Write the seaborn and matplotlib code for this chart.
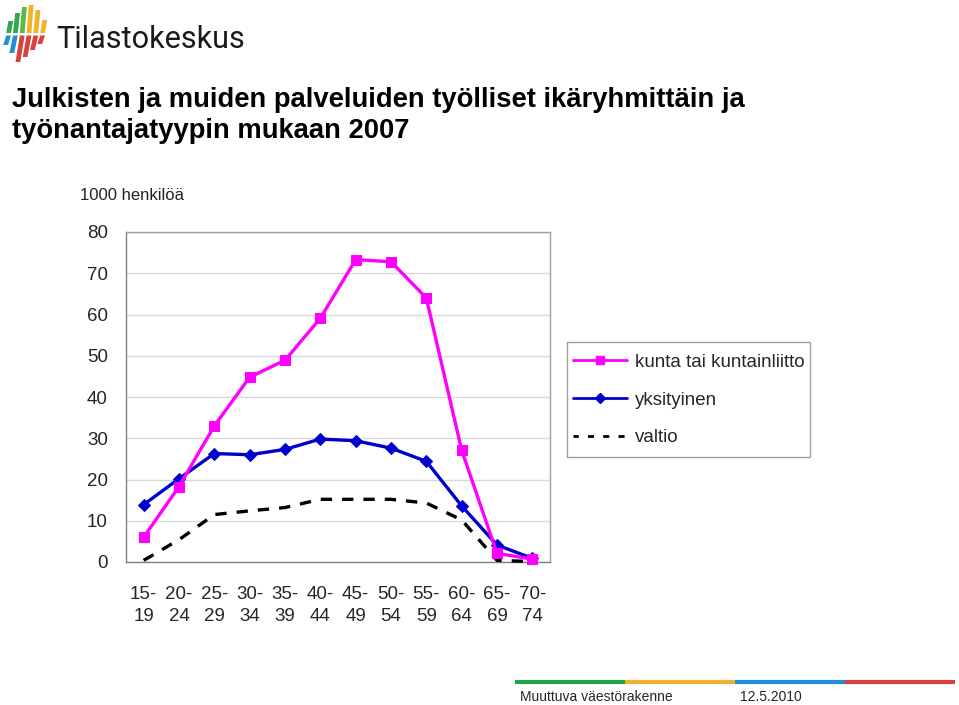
import numpy as np
import pandas as pd
import matplotlib
matplotlib.use("Agg")
import matplotlib.pyplot as plt
import seaborn as sns
from matplotlib.lines import Line2D
from matplotlib.patches import Polygon, Rectangle
from matplotlib import font_manager
from matplotlib.ticker import FixedLocator

# ---------------- data ----------------
age_groups = ["15-\n19", "20-\n24", "25-\n29", "30-\n34", "35-\n39", "40-\n44",
              "45-\n49", "50-\n54", "55-\n59", "60-\n64", "65-\n69", "70-\n74"]
kunta = [6.0, 18.3, 33.0, 44.8, 48.9, 59.1, 73.3, 72.8, 64.0, 27.1, 2.1, 0.7]
yksityinen = [13.9, 20.2, 26.3, 26.0, 27.3, 29.8, 29.4, 27.6, 24.4, 13.6, 4.1, 0.9]
valtio = [0.4, 5.4, 11.5, 12.4, 13.2, 15.2, 15.2, 15.2, 14.3, 10.2, 0.4, 0.1]
series_names = ["kunta tai kuntainliitto", "yksityinen", "valtio"]
y_ticks = [0, 10, 20, 30, 40, 50, 60, 70, 80]

title = "Julkisten ja muiden palveluiden työlliset ikäryhmittäin ja\ntyönantajatyypin mukaan 2007"
unit_label = "1000 henkilöä"
footer_left = "Muuttuva väestörakenne"
footer_right = "12.5.2010"
logo_text = "Tilastokeskus"

# ---------------- figure ----------------
sns.set_style("white")
plt.rcParams["font.family"] = ["Liberation Sans", "DejaVu Sans"]

W, H = 959, 705
fig = plt.figure(figsize=(W / 100, H / 100), dpi=100)

def fx(px):
    return px / W

def fy(py):
    return 1 - py / H

ax_left, ax_right, ax_top, ax_bottom = 126, 550, 232, 562
ax = fig.add_axes([fx(ax_left), fy(ax_bottom), fx(ax_right - ax_left), (ax_bottom - ax_top) / H])

x = np.arange(len(age_groups))
df = pd.DataFrame({"x": x, "kunta": kunta, "yksityinen": yksityinen, "valtio": valtio})

sns.lineplot(data=df, x="x", y="valtio", ax=ax, color="black", linewidth=2.4,
             linestyle=(0, (3.4, 3.0)), clip_on=False, label=series_names[2], zorder=3)
sns.lineplot(data=df, x="x", y="yksityinen", ax=ax, color="#0000CC", linewidth=2.4,
             marker="D", markersize=6.5, markeredgecolor="#0000CC", markerfacecolor="#0000CC",
             clip_on=False, label=series_names[1], zorder=4)
sns.lineplot(data=df, x="x", y="kunta", ax=ax, color="#FF00FF", linewidth=2.4,
             marker="s", markersize=6.5, markeredgecolor="#FF00FF", markerfacecolor="#FF00FF",
             clip_on=False, label=series_names[0], zorder=5)

ax.set_xlim(-0.5, len(age_groups) - 0.5)
ax.set_ylim(0, 80)
ax.set_yticks(y_ticks)
ax.set_yticklabels([str(v) for v in y_ticks], fontsize=13.5)
ax.set_xticks(x)
ax.set_xticklabels(age_groups, fontsize=13.5, linespacing=1.4)
ax.xaxis.set_minor_locator(FixedLocator(np.arange(0.5, len(age_groups) - 0.5, 1)))
ax.tick_params(axis="x", which="major", length=0, pad=17)
ax.tick_params(axis="x", which="minor", length=5, direction="in", color="#808080", width=1)
ax.tick_params(axis="y", length=4, direction="out", color="#808080", width=1, pad=9)
ax.set_xlabel("")
ax.set_ylabel("")
ax.yaxis.grid(True, color="#d9d9d9", linewidth=1)
ax.xaxis.grid(False)
ax.set_axisbelow(True)
for name, sp in ax.spines.items():
    sp.set_visible(True)
    sp.set_color("#a0a0a0")
    sp.set_linewidth(1)
ax.spines["bottom"].set_color("#808080")
ax.spines["left"].set_color("#808080")

# legend (frame drawn separately so its box matches the reference)
fig.add_artist(Rectangle((fx(567), fy(457)), fx(810 - 567), (457 - 342) / H,
                         transform=fig.transFigure, facecolor="white",
                         edgecolor="#a0a0a0", lw=1, zorder=-1))
handles = [
    Line2D([], [], color="#FF00FF", lw=2, marker="s", markersize=6, markerfacecolor="#FF00FF"),
    Line2D([], [], color="#0000CC", lw=2, marker="D", markersize=5.5, markerfacecolor="#0000CC"),
    Line2D([], [], color="black", lw=2, linestyle=(0.3, (2.2, 3.3))),
]
leg = ax.legend(handles, series_names, loc="upper left",
                bbox_to_anchor=(fx(567), fy(348)), bbox_transform=fig.transFigure,
                fontsize=13.5, frameon=False,
                handlelength=2.9, handletextpad=0.43, labelspacing=1.1,
                borderpad=0.3, borderaxespad=0, numpoints=1)

# titles
fig.text(fx(12), fy(87), title, fontsize=19.7, fontweight="bold", ha="left", va="top",
         linespacing=1.27, color="black")
fig.text(fx(80), fy(195), unit_label, fontsize=12, ha="left", va="center", color="#222222")

# footer
footer_cols = ["#1ea64a", "#f0b030", "#1e90d8", "#d9413c"]
seg = [515, 625, 735, 845, 955]
for i, c in enumerate(footer_cols):
    fig.add_artist(Line2D([fx(seg[i]), fx(seg[i + 1])], [fy(682), fy(682)], color=c, lw=3,
                          solid_capstyle="butt"))
fig.text(fx(520), fy(697), footer_left, fontsize=10, ha="left", va="center")
fig.text(fx(740), fy(697), footer_right, fontsize=10, ha="left", va="center")

# logo strips (decoration)
top_cols = ["#2ea84a", "#2ea84a", "#5cb848", "#f0b429", "#f0b429", "#f0b429"]
bot_cols = ["#1e90d8", "#1e90d8", "#d9413c", "#d9413c", "#d9413c", "#d9413c"]
tops = [21, 13, 7, 5, 10, 20]
bots = [45, 53, 62, 57, 50, 44]
for i in range(6):
    x0 = 4 + i * 6.8
    wdt = 4.8
    sl = 2.2
    pu = [(x0 + 2 * sl, tops[i]), (x0 + 2 * sl + wdt, tops[i]), (x0 + wdt + sl, 33), (x0 + sl, 33)]
    pl = [(x0 + sl, 35.5), (x0 + wdt + sl, 35.5), (x0 + wdt + sl * (35.5 - bots[i]) / 28, bots[i]),
          (x0 + sl * (35.5 - bots[i]) / 28, bots[i])]
    for pts, col in ((pu, top_cols[i]), (pl, bot_cols[i])):
        fig.add_artist(Polygon([(fx(a), fy(b)) for a, b in pts], closed=True,
                               transform=fig.transFigure, color=col, lw=0))

# logo text: narrowest available font, sized to fit the logo width
names = {f.name for f in font_manager.fontManager.ttflist}
logo_fam = "Liberation Sans Narrow" if "Liberation Sans Narrow" in names else "Roboto"
lt = fig.text(fx(56), fy(48), logo_text, fontsize=24, family=logo_fam, ha="left",
              va="baseline", color="#1a1a1a")
rend = fig.canvas.get_renderer()
wpx = lt.get_window_extent(rend).width
lt.set_fontsize(24 * (245 - 56) / wpx)

fig.savefig("out.png", dpi=100)
